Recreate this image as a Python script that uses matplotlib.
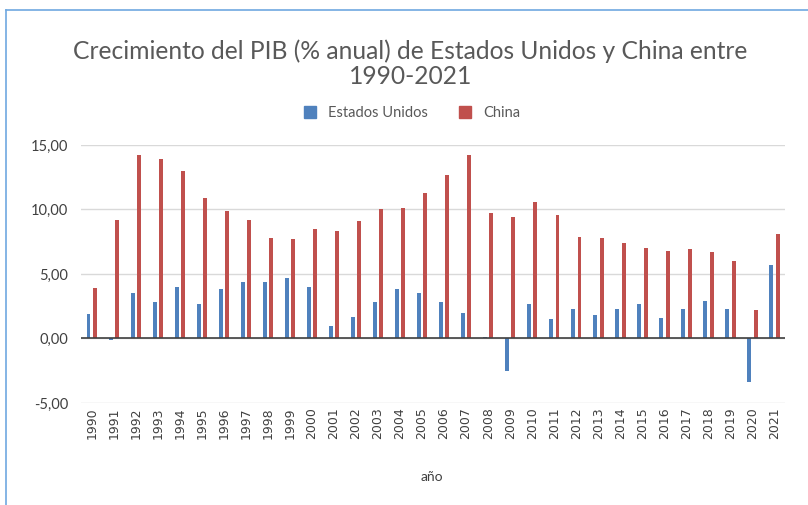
import matplotlib.pyplot as plt
import numpy as np
from matplotlib.lines import Line2D
from matplotlib.patches import Patch

years = list(range(1990, 2022))
usa = [1.9, -0.1, 3.5, 2.8, 4.0, 2.7, 3.8, 4.4, 4.4, 4.7, 4.0, 1.0, 1.7, 2.8, 3.8, 3.5,
       2.8, 2.0, 0.1, -2.5, 2.7, 1.5, 2.3, 1.8, 2.3, 2.7, 1.6, 2.3, 2.9, 2.3, -3.4, 5.7]
china = [3.9, 9.2, 14.2, 13.9, 13.0, 10.9, 9.9, 9.2, 7.8, 7.7, 8.5, 8.3, 9.1, 10.0, 10.1, 11.3,
         12.7, 14.2, 9.7, 9.4, 10.6, 9.6, 7.9, 7.8, 7.4, 7.0, 6.8, 6.9, 6.7, 6.0, 2.2, 8.1]
yticks = [-5, 0, 5, 10, 15]

plt.rcParams['font.family'] = ['Lato', 'DejaVu Sans']
grey = '#595959'
blue = '#4F81BD'
red = '#C0504D'

fig = plt.figure(figsize=(8.08, 5.05), dpi=100)
ax = fig.add_axes([0.100, 0.202, 0.872, 0.511])

x = np.arange(len(years))
w = 0.18
ax.bar(x - 0.15, usa, w, color=blue, zorder=3)
ax.bar(x + 0.15, china, w, color=red, zorder=3)

ax.set_xlim(-0.5, len(years) - 0.5)
ax.set_ylim(-5, 15)
ax.set_yticks(yticks)
ax.set_yticklabels(['{:.2f}'.format(v).replace('.', ',') for v in yticks], color='#404040', fontsize=10.5)
ax.set_xticks(x)
ax.set_xticklabels([str(y) for y in years], rotation=90, fontsize=9, color='#404040',
                   family='DejaVu Sans')
ax.tick_params(length=0, pad=9)
ax.tick_params(axis='x', pad=3)
ax.grid(axis='y', color='#d9d9d9', lw=1, zorder=0)
ax.axhline(0, color='#404040', lw=1.2, zorder=4)
for s in ax.spines.values():
    s.set_visible(False)

fig.text(0.508, 0.899, 'Crecimiento del PIB (% anual) de Estados Unidos y China entre',
         ha='center', va='center', fontsize=17.7, color=grey)
fig.text(0.508, 0.849, '1990-2021', ha='center', va='center', fontsize=17.7, color=grey)
fig.text(0.535, 0.055, 'año', ha='center', va='center', fontsize=10, color='#404040')

handles = [Patch(color=blue, label='Estados Unidos'), Patch(color=red, label='China')]
fig.legend(handles=handles, loc='center', bbox_to_anchor=(0.51, 0.776), ncol=2, frameon=False,
           fontsize=10.5, labelcolor=grey, handlelength=0.8, handleheight=0.8, columnspacing=2.2,
           handletextpad=0.8)

# selection border from the screenshot
fig.add_artist(Line2D([0.007, 0.007], [0.0, 0.980], color='#6fa8e0', lw=1.2))
fig.add_artist(Line2D([0.007, 1.0], [0.980, 0.980], color='#6fa8e0', lw=1.2))

fig.savefig('out.png', dpi=100)
